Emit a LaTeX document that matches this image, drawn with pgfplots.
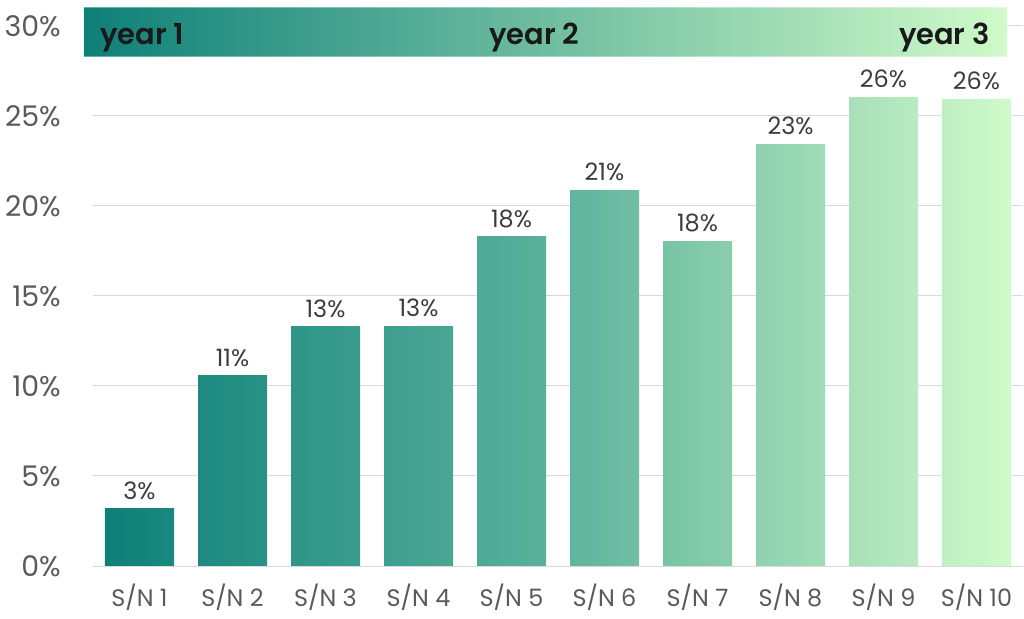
\documentclass[border=0pt]{standalone}
\usepackage{pgfplots}
\pgfplotsset{compat=1.18}
\usepackage{fontspec}
\setmainfont{Poppins}[BoldFont={Poppins SemiBold}]
\definecolor{g0}{RGB}{14,128,120}
\definecolor{g1}{RGB}{92,178,156}
\definecolor{g2}{RGB}{208,250,201}
\definecolor{c0l}{RGB}{14,128,120}\definecolor{c0r}{RGB}{26,136,126}
\definecolor{c1l}{RGB}{30,138,127}\definecolor{c1r}{RGB}{42,146,133}
\definecolor{c2l}{RGB}{46,149,135}\definecolor{c2r}{RGB}{58,156,140}
\definecolor{c3l}{RGB}{62,159,142}\definecolor{c3r}{RGB}{74,166,148}
\definecolor{c4l}{RGB}{78,169,150}\definecolor{c4r}{RGB}{90,177,155}
\definecolor{c5l}{RGB}{95,180,157}\definecolor{c5r}{RGB}{113,191,164}
\definecolor{c6l}{RGB}{119,195,166}\definecolor{c6r}{RGB}{137,206,173}
\definecolor{c7l}{RGB}{143,210,176}\definecolor{c7r}{RGB}{160,220,183}
\definecolor{c8l}{RGB}{167,224,185}\definecolor{c8r}{RGB}{184,235,192}
\definecolor{c9l}{RGB}{190,239,194}\definecolor{c9r}{RGB}{208,250,201}
\definecolor{ticktext}{RGB}{90,90,90}
\definecolor{lbltext}{RGB}{60,60,60}
\begin{document}
\begin{tikzpicture}
\useasboundingbox (-93bp,-53bp) rectangle (931bp,566bp);
\begin{axis}[
  scale only axis, width=930bp, height=558bp,
  xmin=-0.5, xmax=9.5, ymin=0, ymax=31,
  xtick={0,...,9},
  xticklabels={S/N 1,S/N 2,S/N 3,S/N 4,S/N 5,S/N 6,S/N 7,S/N 8,S/N 9,S/N 10},
  ytick={0,5,10,15,20,25,30},
  yticklabels={0\%,5\%,10\%,15\%,20\%,25\%,30\%},
  axis line style={draw=none},
  major tick length=0pt,
  ymajorgrids,
  major grid style={draw=black!15, line width=1bp},
  yticklabel style={font=\fontsize{28.5}{32}\selectfont, text=ticktext, anchor=east, inner sep=0pt, xshift=-32bp},
  xticklabel style={font=\fontsize{24}{28}\selectfont, text=ticktext, anchor=north, inner sep=0pt, yshift=-18bp},
  every node near coord/.append style={font=\fontsize{24}{28}\selectfont, text=lbltext, anchor=south, inner sep=0pt, yshift=9bp},
  clip=false,
  every axis plot/.append style={ybar, bar width=69bp, bar shift=0pt, draw=none},
]
\addplot[left color=c0l, right color=c0r, nodes near coords={3\%}] coordinates {(0,3.18)};
\addplot[left color=c1l, right color=c1r, nodes near coords={11\%}] coordinates {(1,10.56)};
\addplot[left color=c2l, right color=c2r, nodes near coords={13\%}] coordinates {(2,13.28)};
\addplot[left color=c3l, right color=c3r, nodes near coords={13\%}] coordinates {(3,13.33)};
\addplot[left color=c4l, right color=c4r, nodes near coords={18\%}] coordinates {(4,18.28)};
\addplot[left color=c5l, right color=c5r, nodes near coords={21\%}] coordinates {(5,20.87)};
\addplot[left color=c6l, right color=c6r, nodes near coords={18\%}] coordinates {(6,18.02)};
\addplot[left color=c7l, right color=c7r, nodes near coords={23\%}] coordinates {(7,23.44)};
\addplot[left color=c8l, right color=c8r, nodes near coords={26\%}] coordinates {(8,26.03)};
\addplot[left color=c9l, right color=c9r, nodes near coords={26\%}] coordinates {(9,25.94)};
\end{axis}
\shade[left color=g0, middle color=g1, right color=g2] (-9bp,509bp) rectangle (914bp,558bp);
\draw[white, opacity=0.35, line width=1bp] (-9bp,509bp) rectangle (914bp,558bp);
\node[anchor=base west, inner sep=0pt, font=\fontsize{29}{33}\selectfont\bfseries, text=black!90] at (7bp,521bp) {year 1};
\node[anchor=base west, inner sep=0pt, font=\fontsize{29}{33}\selectfont\bfseries, text=black!90] at (396bp,521bp) {year 2};
\node[anchor=base east, inner sep=0pt, font=\fontsize{29}{33}\selectfont\bfseries, text=black!90] at (897bp,521bp) {year 3};
\end{tikzpicture}
\end{document}
